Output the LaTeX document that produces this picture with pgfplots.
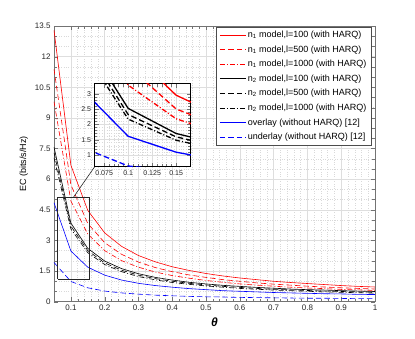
\documentclass[border=0pt]{standalone}
\usepackage{pgfplots}
\pgfplotsset{compat=1.18}
\usepackage{pgfplotstable}
\usepackage{fontspec}
\setmainfont{Liberation Sans}

% EC versus theta, main curves
\pgfplotstableread{
t    rs    rd    rdd   bs    bd    bdd   os    us
0.05 13.30 11.39 9.80  7.57  7.30  7.05  4.85  1.92
0.10 6.68  5.72  4.93  3.85  3.70  3.56  2.48  0.99
0.15 4.47  3.83  3.31  2.61  2.50  2.40  1.69  0.68
0.20 3.37  2.89  2.50  1.99  1.90  1.82  1.30  0.52
0.25 2.71  2.32  2.01  1.62  1.54  1.47  1.06  0.43
0.30 2.26  1.94  1.69  1.37  1.30  1.23  0.90  0.37
0.35 1.95  1.67  1.45  1.19  1.13  1.07  0.79  0.32
0.40 1.71  1.47  1.28  1.06  1.00  0.94  0.71  0.29
0.45 1.53  1.31  1.15  0.95  0.90  0.85  0.64  0.26
0.50 1.38  1.19  1.04  0.87  0.82  0.77  0.59  0.24
0.55 1.26  1.08  0.95  0.80  0.75  0.71  0.54  0.23
0.60 1.16  1.00  0.87  0.75  0.70  0.65  0.51  0.21
0.65 1.08  0.92  0.81  0.70  0.65  0.61  0.48  0.20
0.70 1.00  0.86  0.76  0.66  0.61  0.57  0.45  0.19
0.75 0.94  0.81  0.71  0.62  0.58  0.54  0.43  0.18
0.80 0.89  0.76  0.67  0.59  0.55  0.51  0.41  0.17
0.85 0.84  0.72  0.64  0.57  0.52  0.48  0.39  0.17
0.90 0.79  0.68  0.60  0.54  0.50  0.46  0.38  0.16
0.95 0.75  0.65  0.58  0.52  0.48  0.44  0.36  0.15
1.00 0.72  0.62  0.55  0.50  0.46  0.42  0.35  0.15
}\maindata

% zoomed panel
\pgfplotstableread{
t    rs    rd    rdd   bs    bd    bdd   os    us
0.05 8.80  7.50  6.45  5.00  4.80  4.60  3.20  1.27
0.10 4.45  3.90  3.28  2.52  2.32  2.17  1.61  0.64
0.15 2.95  2.50  2.18  1.70  1.59  1.48  1.09  0.47
0.20 2.22  1.90  1.67  1.32  1.23  1.14  0.80  0.36
}\insetdata

\tikzset{
  dsh/.style={dash pattern=on 5.5pt off 3pt},
  ddt/.style={dash pattern=on 5pt off 2pt on 1pt off 2pt},
}
\pgfplotsset{
  legend image code/.code={\draw[#1] (0cm,0cm) -- (0.9cm,0cm);},
  mlab/.style={
    scale only axis,
    grid=both,
    major grid style={black!13},
    minor grid style={black!15, dotted},
    axis line style={black!55},
    every tick/.append style={black!55},
    tick align=inside,
    tick label style={text=black!85},
    /pgf/number format/assume math mode=true,
    scaled ticks=false,
  },
}

\begin{document}
\begin{tikzpicture}
\begin{axis}[mlab, name=main,
  width=321pt, height=275.7pt,
  xmin=0.05, xmax=1, ymin=0, ymax=13.5,
  xtick={0.1,0.2,0.3,0.4,0.5,0.6,0.7,0.8,0.9,1},
  xticklabels={0.1,0.2,0.3,0.4,0.5,0.6,0.7,0.8,0.9,1},
  ytick={0,1.5,3,4.5,6,7.5,9,10.5,12,13.5},
  yticklabels={0,1.5,3,4.5,6,7.5,9,10.5,12,13.5},
  minor x tick num=4, minor y tick num=2,
  tick label style={font=\footnotesize},
  xlabel={\textbf{\textit{θ}}}, ylabel={EC (bits/s/Hz)},
  xlabel style={font=\large},
  ylabel style={font=\small},
  legend style={at={(rel axis cs:0.9897,0.9975)}, anchor=north east,
    font=\small, draw=black!70, row sep=2.6pt},
  legend cell align=left,
  every axis plot/.append style={line width=0.6pt},
]
\addplot[red] table[x=t,y=rs] {\maindata};
\addlegendentry{n\textsubscript{1} model,l=100 (with HARQ)}
\addplot[red, dsh] table[x=t,y=rd] {\maindata};
\addlegendentry{n\textsubscript{1} model,l=500 (with HARQ)}
\addplot[red, ddt] table[x=t,y=rdd] {\maindata};
\addlegendentry{n\textsubscript{1} model,l=1000 (with HARQ)}
\addplot[black] table[x=t,y=bs] {\maindata};
\addlegendentry{n\textsubscript{2} model,l=100 (with HARQ)}
\addplot[black, dsh] table[x=t,y=bd] {\maindata};
\addlegendentry{n\textsubscript{2} model,l=500 (with HARQ)}
\addplot[black, ddt] table[x=t,y=bdd] {\maindata};
\addlegendentry{n\textsubscript{2} model,l=1000 (with HARQ)}
\addplot[blue] table[x=t,y=os] {\maindata};
\addlegendentry{overlay (without HARQ) {[}12{]}}
\addplot[blue, dsh] table[x=t,y=us] {\maindata};
\addlegendentry{underlay (without HARQ) {[}12{]}}
\addplot[black!85, forget plot] coordinates {(0.061,1.1) (0.154,1.1) (0.154,5.1) (0.061,5.1) (0.061,1.1)};
\addplot[black!85, forget plot] coordinates {(0.107,5.1) (0.170,6.6)};
\end{axis}

\begin{axis}[mlab, at={(main.south west)}, anchor=south west,
  xshift=40.55pt, yshift=134.8pt,
  width=96.3pt, height=83pt,
  xmin=0.065, xmax=0.1653, ymin=0.61, ymax=3.32,
  xtick={0.075,0.1,0.125,0.15},
  xticklabels={0.075,0.1,0.125,0.15},
  ytick={1,1.5,2,2.5,3},
  yticklabels={1,1.5,2,2.5,3},
  minor x tick num=4, minor y tick num=4,
  axis background/.style={fill=white},
  axis line style={black, line width=0.8pt},
  tick label style={font=\scriptsize},
  every axis plot/.append style={line width=1.3pt},
]
\addplot[red] table[x=t,y=rs] {\insetdata};
\addplot[red, dsh] table[x=t,y=rd] {\insetdata};
\addplot[red, ddt] table[x=t,y=rdd] {\insetdata};
\addplot[black] table[x=t,y=bs] {\insetdata};
\addplot[black, dsh] table[x=t,y=bd] {\insetdata};
\addplot[black, ddt] table[x=t,y=bdd] {\insetdata};
\addplot[blue] table[x=t,y=os] {\insetdata};
\addplot[blue, dsh] table[x=t,y=us] {\insetdata};
\end{axis}

\path (main.south west) ++(-54pt,-37.3pt) coordinate (bbA);
\path (main.north east) ++(40pt,26pt) coordinate (bbB);
\end{tikzpicture}
\end{document}
